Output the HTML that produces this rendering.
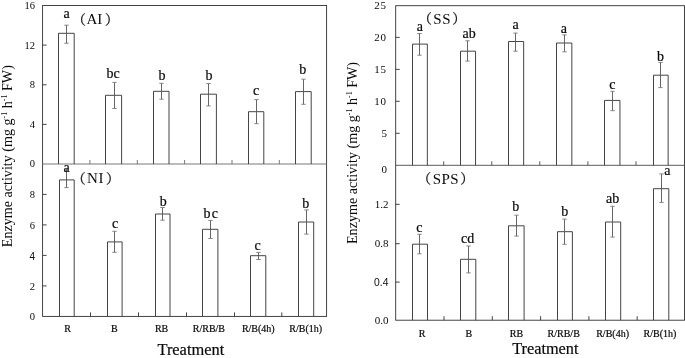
<!DOCTYPE html>
<html><head><meta charset="utf-8"><title>Enzyme activity</title>
<style>html,body{margin:0;padding:0;background:#fff}svg{display:block;will-change:transform}</style></head>
<body>
<svg width="685" height="358" viewBox="0 0 685 358">
<rect width="685" height="358" fill="#fff"/>
<rect x="42.6" y="5.5" width="284.00" height="310.90" fill="none" stroke="#303030" stroke-width="0.9"/>
<line x1="42.60" y1="164.00" x2="326.60" y2="164.00" stroke="#6a6a6a" stroke-width="0.9"/>
<line x1="89.90" y1="164.00" x2="89.90" y2="160.00" stroke="#6a6a6a" stroke-width="0.9"/>
<line x1="137.30" y1="164.00" x2="137.30" y2="160.00" stroke="#6a6a6a" stroke-width="0.9"/>
<line x1="184.60" y1="164.00" x2="184.60" y2="160.00" stroke="#6a6a6a" stroke-width="0.9"/>
<line x1="232.00" y1="164.00" x2="232.00" y2="160.00" stroke="#6a6a6a" stroke-width="0.9"/>
<line x1="279.30" y1="164.00" x2="279.30" y2="160.00" stroke="#6a6a6a" stroke-width="0.9"/>
<line x1="90.50" y1="316.40" x2="90.50" y2="312.40" stroke="#303030" stroke-width="0.9"/>
<line x1="138.50" y1="316.40" x2="138.50" y2="312.40" stroke="#303030" stroke-width="0.9"/>
<line x1="186.50" y1="316.40" x2="186.50" y2="312.40" stroke="#303030" stroke-width="0.9"/>
<line x1="234.50" y1="316.40" x2="234.50" y2="312.40" stroke="#303030" stroke-width="0.9"/>
<line x1="281.80" y1="316.40" x2="281.80" y2="312.40" stroke="#303030" stroke-width="0.9"/>
<rect x="395.7" y="5.7" width="288.80" height="314.50" fill="none" stroke="#303030" stroke-width="0.9"/>
<line x1="395.70" y1="165.30" x2="684.50" y2="165.30" stroke="#484848" stroke-width="0.9"/>
<line x1="443.70" y1="165.30" x2="443.70" y2="161.30" stroke="#484848" stroke-width="0.9"/>
<line x1="491.80" y1="165.30" x2="491.80" y2="161.30" stroke="#484848" stroke-width="0.9"/>
<line x1="539.80" y1="165.30" x2="539.80" y2="161.30" stroke="#484848" stroke-width="0.9"/>
<line x1="587.90" y1="165.30" x2="587.90" y2="161.30" stroke="#484848" stroke-width="0.9"/>
<line x1="636.00" y1="165.30" x2="636.00" y2="161.30" stroke="#484848" stroke-width="0.9"/>
<line x1="444.00" y1="320.20" x2="444.00" y2="316.20" stroke="#303030" stroke-width="0.9"/>
<line x1="492.30" y1="320.20" x2="492.30" y2="316.20" stroke="#303030" stroke-width="0.9"/>
<line x1="540.60" y1="320.20" x2="540.60" y2="316.20" stroke="#303030" stroke-width="0.9"/>
<line x1="588.90" y1="320.20" x2="588.90" y2="316.20" stroke="#303030" stroke-width="0.9"/>
<line x1="637.20" y1="320.20" x2="637.20" y2="316.20" stroke="#303030" stroke-width="0.9"/>
<line x1="42.60" y1="45.10" x2="46.60" y2="45.10" stroke="#303030" stroke-width="0.9"/>
<line x1="42.60" y1="84.80" x2="46.60" y2="84.80" stroke="#303030" stroke-width="0.9"/>
<line x1="42.60" y1="124.40" x2="46.60" y2="124.40" stroke="#303030" stroke-width="0.9"/>
<polyline points="58.50,164.00 58.50,33.30 74.20,33.30 74.20,164.00" fill="none" stroke="#303030" stroke-width="0.9"/>
<line x1="66.50" y1="25.20" x2="66.50" y2="43.20" stroke="#555555" stroke-width="0.9"/>
<line x1="64.30" y1="25.20" x2="68.70" y2="25.20" stroke="#7a7a7a" stroke-width="0.9"/>
<line x1="64.30" y1="43.20" x2="68.70" y2="43.20" stroke="#7a7a7a" stroke-width="0.9"/>
<polyline points="105.50,164.00 105.50,95.30 121.60,95.30 121.60,164.00" fill="none" stroke="#303030" stroke-width="0.9"/>
<line x1="114.50" y1="82.40" x2="114.50" y2="108.50" stroke="#555555" stroke-width="0.9"/>
<line x1="112.30" y1="82.40" x2="116.70" y2="82.40" stroke="#7a7a7a" stroke-width="0.9"/>
<line x1="112.30" y1="108.50" x2="116.70" y2="108.50" stroke="#7a7a7a" stroke-width="0.9"/>
<polyline points="153.50,164.00 153.50,91.30 169.00,91.30 169.00,164.00" fill="none" stroke="#303030" stroke-width="0.9"/>
<line x1="161.50" y1="83.30" x2="161.50" y2="99.20" stroke="#555555" stroke-width="0.9"/>
<line x1="159.30" y1="83.30" x2="163.70" y2="83.30" stroke="#7a7a7a" stroke-width="0.9"/>
<line x1="159.30" y1="99.20" x2="163.70" y2="99.20" stroke="#7a7a7a" stroke-width="0.9"/>
<polyline points="200.50,164.00 200.50,94.20 216.40,94.20 216.40,164.00" fill="none" stroke="#303030" stroke-width="0.9"/>
<line x1="208.50" y1="83.50" x2="208.50" y2="105.90" stroke="#555555" stroke-width="0.9"/>
<line x1="206.30" y1="83.50" x2="210.70" y2="83.50" stroke="#7a7a7a" stroke-width="0.9"/>
<line x1="206.30" y1="105.90" x2="210.70" y2="105.90" stroke="#7a7a7a" stroke-width="0.9"/>
<polyline points="248.50,164.00 248.50,111.70 263.80,111.70 263.80,164.00" fill="none" stroke="#303030" stroke-width="0.9"/>
<line x1="256.50" y1="99.60" x2="256.50" y2="123.70" stroke="#555555" stroke-width="0.9"/>
<line x1="254.30" y1="99.60" x2="258.70" y2="99.60" stroke="#7a7a7a" stroke-width="0.9"/>
<line x1="254.30" y1="123.70" x2="258.70" y2="123.70" stroke="#7a7a7a" stroke-width="0.9"/>
<polyline points="295.50,164.00 295.50,91.60 311.20,91.60 311.20,164.00" fill="none" stroke="#303030" stroke-width="0.9"/>
<line x1="303.50" y1="79.20" x2="303.50" y2="104.30" stroke="#555555" stroke-width="0.9"/>
<line x1="301.30" y1="79.20" x2="305.70" y2="79.20" stroke="#7a7a7a" stroke-width="0.9"/>
<line x1="301.30" y1="104.30" x2="305.70" y2="104.30" stroke="#7a7a7a" stroke-width="0.9"/>
<text x="66.70" y="17.60" font-size="14" text-anchor="middle" font-family='"Liberation Serif", serif' fill="#0a0a0a" stroke="#0a0a0a" stroke-width="0.2" >a</text>
<text x="113.00" y="78.00" font-size="14" text-anchor="middle" font-family='"Liberation Serif", serif' fill="#0a0a0a" stroke="#0a0a0a" stroke-width="0.2" >bc</text>
<text x="161.90" y="79.50" font-size="14" text-anchor="middle" font-family='"Liberation Serif", serif' fill="#0a0a0a" stroke="#0a0a0a" stroke-width="0.2" >b</text>
<text x="209.10" y="79.90" font-size="14" text-anchor="middle" font-family='"Liberation Serif", serif' fill="#0a0a0a" stroke="#0a0a0a" stroke-width="0.2" >b</text>
<text x="256.00" y="95.00" font-size="14" text-anchor="middle" font-family='"Liberation Serif", serif' fill="#0a0a0a" stroke="#0a0a0a" stroke-width="0.2" >c</text>
<text x="302.80" y="74.40" font-size="14" text-anchor="middle" font-family='"Liberation Serif", serif' fill="#0a0a0a" stroke="#0a0a0a" stroke-width="0.2" >b</text>
<line x1="42.60" y1="194.40" x2="46.60" y2="194.40" stroke="#303030" stroke-width="0.9"/>
<line x1="42.60" y1="224.90" x2="46.60" y2="224.90" stroke="#303030" stroke-width="0.9"/>
<line x1="42.60" y1="255.40" x2="46.60" y2="255.40" stroke="#303030" stroke-width="0.9"/>
<line x1="42.60" y1="285.90" x2="46.60" y2="285.90" stroke="#303030" stroke-width="0.9"/>
<polyline points="59.50,316.40 59.50,179.90 74.20,179.90 74.20,316.40" fill="none" stroke="#303030" stroke-width="0.9"/>
<line x1="66.50" y1="168.80" x2="66.50" y2="187.60" stroke="#555555" stroke-width="0.9"/>
<line x1="64.30" y1="168.80" x2="68.70" y2="168.80" stroke="#7a7a7a" stroke-width="0.9"/>
<line x1="64.30" y1="187.60" x2="68.70" y2="187.60" stroke="#7a7a7a" stroke-width="0.9"/>
<polyline points="107.50,316.40 107.50,241.90 122.10,241.90 122.10,316.40" fill="none" stroke="#303030" stroke-width="0.9"/>
<line x1="114.50" y1="231.30" x2="114.50" y2="252.30" stroke="#555555" stroke-width="0.9"/>
<line x1="112.30" y1="231.30" x2="116.70" y2="231.30" stroke="#7a7a7a" stroke-width="0.9"/>
<line x1="112.30" y1="252.30" x2="116.70" y2="252.30" stroke="#7a7a7a" stroke-width="0.9"/>
<polyline points="155.50,316.40 155.50,214.00 170.00,214.00 170.00,316.40" fill="none" stroke="#303030" stroke-width="0.9"/>
<line x1="162.50" y1="207.50" x2="162.50" y2="220.20" stroke="#555555" stroke-width="0.9"/>
<line x1="160.30" y1="207.50" x2="164.70" y2="207.50" stroke="#7a7a7a" stroke-width="0.9"/>
<line x1="160.30" y1="220.20" x2="164.70" y2="220.20" stroke="#7a7a7a" stroke-width="0.9"/>
<polyline points="202.50,316.40 202.50,229.30 217.90,229.30 217.90,316.40" fill="none" stroke="#303030" stroke-width="0.9"/>
<line x1="210.50" y1="220.40" x2="210.50" y2="238.50" stroke="#555555" stroke-width="0.9"/>
<line x1="208.30" y1="220.40" x2="212.70" y2="220.40" stroke="#7a7a7a" stroke-width="0.9"/>
<line x1="208.30" y1="238.50" x2="212.70" y2="238.50" stroke="#7a7a7a" stroke-width="0.9"/>
<polyline points="250.50,316.40 250.50,255.70 265.80,255.70 265.80,316.40" fill="none" stroke="#303030" stroke-width="0.9"/>
<line x1="258.50" y1="252.40" x2="258.50" y2="259.50" stroke="#555555" stroke-width="0.9"/>
<line x1="256.30" y1="252.40" x2="260.70" y2="252.40" stroke="#7a7a7a" stroke-width="0.9"/>
<line x1="256.30" y1="259.50" x2="260.70" y2="259.50" stroke="#7a7a7a" stroke-width="0.9"/>
<polyline points="298.50,316.40 298.50,222.00 313.70,222.00 313.70,316.40" fill="none" stroke="#303030" stroke-width="0.9"/>
<line x1="306.50" y1="209.90" x2="306.50" y2="234.10" stroke="#555555" stroke-width="0.9"/>
<line x1="304.30" y1="209.90" x2="308.70" y2="209.90" stroke="#7a7a7a" stroke-width="0.9"/>
<line x1="304.30" y1="234.10" x2="308.70" y2="234.10" stroke="#7a7a7a" stroke-width="0.9"/>
<text x="66.50" y="172.10" font-size="14" text-anchor="middle" font-family='"Liberation Serif", serif' fill="#0a0a0a" stroke="#0a0a0a" stroke-width="0.2" >a</text>
<text x="115.00" y="228.20" font-size="14" text-anchor="middle" font-family='"Liberation Serif", serif' fill="#0a0a0a" stroke="#0a0a0a" stroke-width="0.2" >c</text>
<text x="163.20" y="205.90" font-size="14" text-anchor="middle" font-family='"Liberation Serif", serif' fill="#0a0a0a" stroke="#0a0a0a" stroke-width="0.2" >b</text>
<text x="211.40" y="218.20" font-size="14" text-anchor="middle" font-family='"Liberation Serif", serif' fill="#0a0a0a" stroke="#0a0a0a" stroke-width="0.2" letter-spacing="1.3">bc</text>
<text x="257.60" y="249.60" font-size="14" text-anchor="middle" font-family='"Liberation Serif", serif' fill="#0a0a0a" stroke="#0a0a0a" stroke-width="0.2" >c</text>
<text x="305.80" y="208.10" font-size="14" text-anchor="middle" font-family='"Liberation Serif", serif' fill="#0a0a0a" stroke="#0a0a0a" stroke-width="0.2" >b</text>
<line x1="395.70" y1="37.40" x2="399.70" y2="37.40" stroke="#303030" stroke-width="0.9"/>
<line x1="395.70" y1="69.40" x2="399.70" y2="69.40" stroke="#303030" stroke-width="0.9"/>
<line x1="395.70" y1="101.30" x2="399.70" y2="101.30" stroke="#303030" stroke-width="0.9"/>
<line x1="395.70" y1="133.30" x2="399.70" y2="133.30" stroke="#303030" stroke-width="0.9"/>
<polyline points="412.50,165.30 412.50,44.10 427.35,44.10 427.35,165.30" fill="none" stroke="#303030" stroke-width="0.9"/>
<line x1="419.50" y1="33.50" x2="419.50" y2="55.20" stroke="#555555" stroke-width="0.9"/>
<line x1="417.30" y1="33.50" x2="421.70" y2="33.50" stroke="#7a7a7a" stroke-width="0.9"/>
<line x1="417.30" y1="55.20" x2="421.70" y2="55.20" stroke="#7a7a7a" stroke-width="0.9"/>
<polyline points="460.50,165.30 460.50,51.20 475.55,51.20 475.55,165.30" fill="none" stroke="#303030" stroke-width="0.9"/>
<line x1="467.50" y1="40.80" x2="467.50" y2="61.10" stroke="#555555" stroke-width="0.9"/>
<line x1="465.30" y1="40.80" x2="469.70" y2="40.80" stroke="#7a7a7a" stroke-width="0.9"/>
<line x1="465.30" y1="61.10" x2="469.70" y2="61.10" stroke="#7a7a7a" stroke-width="0.9"/>
<polyline points="508.50,165.30 508.50,41.50 523.65,41.50 523.65,165.30" fill="none" stroke="#303030" stroke-width="0.9"/>
<line x1="515.50" y1="33.10" x2="515.50" y2="51.20" stroke="#555555" stroke-width="0.9"/>
<line x1="513.30" y1="33.10" x2="517.70" y2="33.10" stroke="#7a7a7a" stroke-width="0.9"/>
<line x1="513.30" y1="51.20" x2="517.70" y2="51.20" stroke="#7a7a7a" stroke-width="0.9"/>
<polyline points="556.50,165.30 556.50,43.00 571.85,43.00 571.85,165.30" fill="none" stroke="#303030" stroke-width="0.9"/>
<line x1="564.50" y1="34.90" x2="564.50" y2="51.80" stroke="#555555" stroke-width="0.9"/>
<line x1="562.30" y1="34.90" x2="566.70" y2="34.90" stroke="#7a7a7a" stroke-width="0.9"/>
<line x1="562.30" y1="51.80" x2="566.70" y2="51.80" stroke="#7a7a7a" stroke-width="0.9"/>
<polyline points="604.50,165.30 604.50,100.40 619.95,100.40 619.95,165.30" fill="none" stroke="#303030" stroke-width="0.9"/>
<line x1="612.50" y1="91.30" x2="612.50" y2="110.70" stroke="#555555" stroke-width="0.9"/>
<line x1="610.30" y1="91.30" x2="614.70" y2="91.30" stroke="#7a7a7a" stroke-width="0.9"/>
<line x1="610.30" y1="110.70" x2="614.70" y2="110.70" stroke="#7a7a7a" stroke-width="0.9"/>
<polyline points="653.50,165.30 653.50,75.20 668.15,75.20 668.15,165.30" fill="none" stroke="#303030" stroke-width="0.9"/>
<line x1="660.50" y1="62.40" x2="660.50" y2="87.60" stroke="#555555" stroke-width="0.9"/>
<line x1="658.30" y1="62.40" x2="662.70" y2="62.40" stroke="#7a7a7a" stroke-width="0.9"/>
<line x1="658.30" y1="87.60" x2="662.70" y2="87.60" stroke="#7a7a7a" stroke-width="0.9"/>
<text x="419.80" y="31.30" font-size="14" text-anchor="middle" font-family='"Liberation Serif", serif' fill="#0a0a0a" stroke="#0a0a0a" stroke-width="0.2" >a</text>
<text x="469.20" y="37.90" font-size="14" text-anchor="middle" font-family='"Liberation Serif", serif' fill="#0a0a0a" stroke="#0a0a0a" stroke-width="0.2" >ab</text>
<text x="515.60" y="29.10" font-size="14" text-anchor="middle" font-family='"Liberation Serif", serif' fill="#0a0a0a" stroke="#0a0a0a" stroke-width="0.2" >a</text>
<text x="563.80" y="32.60" font-size="14" text-anchor="middle" font-family='"Liberation Serif", serif' fill="#0a0a0a" stroke="#0a0a0a" stroke-width="0.2" >a</text>
<text x="612.30" y="88.70" font-size="14" text-anchor="middle" font-family='"Liberation Serif", serif' fill="#0a0a0a" stroke="#0a0a0a" stroke-width="0.2" >c</text>
<text x="660.40" y="60.70" font-size="14" text-anchor="middle" font-family='"Liberation Serif", serif' fill="#0a0a0a" stroke="#0a0a0a" stroke-width="0.2" >b</text>
<line x1="395.70" y1="204.30" x2="399.70" y2="204.30" stroke="#303030" stroke-width="0.9"/>
<line x1="395.70" y1="243.70" x2="399.70" y2="243.70" stroke="#303030" stroke-width="0.9"/>
<line x1="395.70" y1="282.10" x2="399.70" y2="282.10" stroke="#303030" stroke-width="0.9"/>
<polyline points="412.50,320.20 412.50,244.20 427.50,244.20 427.50,320.20" fill="none" stroke="#303030" stroke-width="0.9"/>
<line x1="419.50" y1="234.30" x2="419.50" y2="253.80" stroke="#555555" stroke-width="0.9"/>
<line x1="417.30" y1="234.30" x2="421.70" y2="234.30" stroke="#7a7a7a" stroke-width="0.9"/>
<line x1="417.30" y1="253.80" x2="421.70" y2="253.80" stroke="#7a7a7a" stroke-width="0.9"/>
<polyline points="460.50,320.20 460.50,259.30 475.80,259.30 475.80,320.20" fill="none" stroke="#303030" stroke-width="0.9"/>
<line x1="468.50" y1="246.00" x2="468.50" y2="272.90" stroke="#555555" stroke-width="0.9"/>
<line x1="466.30" y1="246.00" x2="470.70" y2="246.00" stroke="#7a7a7a" stroke-width="0.9"/>
<line x1="466.30" y1="272.90" x2="470.70" y2="272.90" stroke="#7a7a7a" stroke-width="0.9"/>
<polyline points="508.50,320.20 508.50,225.80 524.10,225.80 524.10,320.20" fill="none" stroke="#303030" stroke-width="0.9"/>
<line x1="516.50" y1="215.20" x2="516.50" y2="236.10" stroke="#555555" stroke-width="0.9"/>
<line x1="514.30" y1="215.20" x2="518.70" y2="215.20" stroke="#7a7a7a" stroke-width="0.9"/>
<line x1="514.30" y1="236.10" x2="518.70" y2="236.10" stroke="#7a7a7a" stroke-width="0.9"/>
<polyline points="557.50,320.20 557.50,231.70 572.40,231.70 572.40,320.20" fill="none" stroke="#303030" stroke-width="0.9"/>
<line x1="564.50" y1="219.10" x2="564.50" y2="244.30" stroke="#555555" stroke-width="0.9"/>
<line x1="562.30" y1="219.10" x2="566.70" y2="219.10" stroke="#7a7a7a" stroke-width="0.9"/>
<line x1="562.30" y1="244.30" x2="566.70" y2="244.30" stroke="#7a7a7a" stroke-width="0.9"/>
<polyline points="605.50,320.20 605.50,222.00 620.70,222.00 620.70,320.20" fill="none" stroke="#303030" stroke-width="0.9"/>
<line x1="612.50" y1="206.30" x2="612.50" y2="237.10" stroke="#555555" stroke-width="0.9"/>
<line x1="610.30" y1="206.30" x2="614.70" y2="206.30" stroke="#7a7a7a" stroke-width="0.9"/>
<line x1="610.30" y1="237.10" x2="614.70" y2="237.10" stroke="#7a7a7a" stroke-width="0.9"/>
<polyline points="653.50,320.20 653.50,188.70 668.80,188.70 668.80,320.20" fill="none" stroke="#303030" stroke-width="0.9"/>
<line x1="661.50" y1="173.90" x2="661.50" y2="202.40" stroke="#555555" stroke-width="0.9"/>
<line x1="659.30" y1="173.90" x2="663.70" y2="173.90" stroke="#7a7a7a" stroke-width="0.9"/>
<line x1="659.30" y1="202.40" x2="663.70" y2="202.40" stroke="#7a7a7a" stroke-width="0.9"/>
<text x="419.30" y="231.60" font-size="14" text-anchor="middle" font-family='"Liberation Serif", serif' fill="#0a0a0a" stroke="#0a0a0a" stroke-width="0.2" >c</text>
<text x="467.70" y="242.50" font-size="14" text-anchor="middle" font-family='"Liberation Serif", serif' fill="#0a0a0a" stroke="#0a0a0a" stroke-width="0.2" >cd</text>
<text x="515.70" y="211.40" font-size="14" text-anchor="middle" font-family='"Liberation Serif", serif' fill="#0a0a0a" stroke="#0a0a0a" stroke-width="0.2" >b</text>
<text x="564.80" y="215.60" font-size="14" text-anchor="middle" font-family='"Liberation Serif", serif' fill="#0a0a0a" stroke="#0a0a0a" stroke-width="0.2" >b</text>
<text x="612.70" y="202.60" font-size="14" text-anchor="middle" font-family='"Liberation Serif", serif' fill="#0a0a0a" stroke="#0a0a0a" stroke-width="0.2" >ab</text>
<text x="667.40" y="175.40" font-size="14" text-anchor="middle" font-family='"Liberation Serif", serif' fill="#0a0a0a" stroke="#0a0a0a" stroke-width="0.2" >a</text>
<text x="72.27" y="23.60" font-size="13.6" font-family='"Noto Serif CJK SC", "Noto Sans CJK SC", serif' fill="#0a0a0a" stroke="#0a0a0a" stroke-width="0.25">（</text>
<text x="86.40" y="23.70" font-size="15" letter-spacing="0" font-family='"Liberation Serif", serif' fill="#0a0a0a">AI</text>
<text x="104.94" y="23.60" font-size="13.6" font-family='"Noto Serif CJK SC", "Noto Sans CJK SC", serif' fill="#0a0a0a" stroke="#0a0a0a" stroke-width="0.25">）</text>
<text x="72.07" y="183.10" font-size="13.6" font-family='"Noto Serif CJK SC", "Noto Sans CJK SC", serif' fill="#0a0a0a" stroke="#0a0a0a" stroke-width="0.25">（</text>
<text x="87.10" y="183.20" font-size="15" letter-spacing="0.6" font-family='"Liberation Serif", serif' fill="#0a0a0a">NI</text>
<text x="105.94" y="183.10" font-size="13.6" font-family='"Noto Serif CJK SC", "Noto Sans CJK SC", serif' fill="#0a0a0a" stroke="#0a0a0a" stroke-width="0.25">）</text>
<text x="418.37" y="22.90" font-size="13.6" font-family='"Noto Serif CJK SC", "Noto Sans CJK SC", serif' fill="#0a0a0a" stroke="#0a0a0a" stroke-width="0.25">（</text>
<text x="433.30" y="23.80" font-size="15" letter-spacing="0.7" font-family='"Liberation Serif", serif' fill="#0a0a0a">SS</text>
<text x="452.34" y="22.90" font-size="13.6" font-family='"Noto Serif CJK SC", "Noto Sans CJK SC", serif' fill="#0a0a0a" stroke="#0a0a0a" stroke-width="0.25">）</text>
<text x="417.57" y="182.90" font-size="13.6" font-family='"Noto Serif CJK SC", "Noto Sans CJK SC", serif' fill="#0a0a0a" stroke="#0a0a0a" stroke-width="0.25">（</text>
<text x="432.80" y="183.50" font-size="15" letter-spacing="0.4" font-family='"Liberation Serif", serif' fill="#0a0a0a">SPS</text>
<text x="460.14" y="182.90" font-size="13.6" font-family='"Noto Serif CJK SC", "Noto Sans CJK SC", serif' fill="#0a0a0a" stroke="#0a0a0a" stroke-width="0.25">）</text>
<text x="35.00" y="9.10" font-size="10.5" text-anchor="end" font-family='"Liberation Serif", serif' fill="#0a0a0a" >16</text>
<text x="35.00" y="48.70" font-size="10.5" text-anchor="end" font-family='"Liberation Serif", serif' fill="#0a0a0a" >12</text>
<text x="35.00" y="88.40" font-size="10.5" text-anchor="end" font-family='"Liberation Serif", serif' fill="#0a0a0a" >8</text>
<text x="35.00" y="128.00" font-size="10.5" text-anchor="end" font-family='"Liberation Serif", serif' fill="#0a0a0a" >4</text>
<text x="35.00" y="167.00" font-size="10.5" text-anchor="end" font-family='"Liberation Serif", serif' fill="#0a0a0a" >0</text>
<text x="35.00" y="198.00" font-size="10.5" text-anchor="end" font-family='"Liberation Serif", serif' fill="#0a0a0a" >8</text>
<text x="35.00" y="228.50" font-size="10.5" text-anchor="end" font-family='"Liberation Serif", serif' fill="#0a0a0a" >6</text>
<text x="35.00" y="259.60" font-size="10" text-anchor="end" font-family='"Liberation Sans", sans-serif' fill="#0a0a0a" >4</text>
<text x="35.00" y="289.50" font-size="10.5" text-anchor="end" font-family='"Liberation Serif", serif' fill="#0a0a0a" >2</text>
<text x="35.00" y="320.00" font-size="10.5" text-anchor="end" font-family='"Liberation Serif", serif' fill="#0a0a0a" >0</text>
<text x="386.60" y="9.10" font-size="11" text-anchor="end" font-family='"Liberation Serif", serif' fill="#0a0a0a" letter-spacing="0.7">25</text>
<text x="386.60" y="41.10" font-size="11" text-anchor="end" font-family='"Liberation Serif", serif' fill="#0a0a0a" letter-spacing="0.7">20</text>
<text x="386.60" y="73.10" font-size="11" text-anchor="end" font-family='"Liberation Serif", serif' fill="#0a0a0a" letter-spacing="0.7">15</text>
<text x="386.60" y="105.00" font-size="11" text-anchor="end" font-family='"Liberation Serif", serif' fill="#0a0a0a" letter-spacing="0.7">10</text>
<text x="387.60" y="137.00" font-size="11" text-anchor="end" font-family='"Liberation Serif", serif' fill="#0a0a0a" letter-spacing="0.7">5</text>
<text x="387.60" y="172.90" font-size="11" text-anchor="end" font-family='"Liberation Serif", serif' fill="#0a0a0a" letter-spacing="0.7">0</text>
<text x="388.40" y="208.00" font-size="11" text-anchor="end" font-family='"Liberation Serif", serif' fill="#0a0a0a" >1.2</text>
<text x="388.40" y="247.40" font-size="11" text-anchor="end" font-family='"Liberation Serif", serif' fill="#0a0a0a" >0.8</text>
<text x="388.40" y="285.80" font-size="10.3" text-anchor="end" font-family='"Liberation Sans", sans-serif' fill="#0a0a0a" >0.4</text>
<text x="388.40" y="323.80" font-size="11" text-anchor="end" font-family='"Liberation Serif", serif' fill="#0a0a0a" >0.0</text>
<text x="67.70" y="332.10" font-size="10" text-anchor="middle" font-family='"Liberation Serif", serif' fill="#0a0a0a" stroke="#0a0a0a" stroke-width="0.2" >R</text>
<text x="114.40" y="332.10" font-size="10" text-anchor="middle" font-family='"Liberation Serif", serif' fill="#0a0a0a" stroke="#0a0a0a" stroke-width="0.2" >B</text>
<text x="161.60" y="332.10" font-size="10" text-anchor="middle" font-family='"Liberation Serif", serif' fill="#0a0a0a" stroke="#0a0a0a" stroke-width="0.2" >RB</text>
<text x="208.90" y="332.10" font-size="10" text-anchor="middle" font-family='"Liberation Serif", serif' fill="#0a0a0a" stroke="#0a0a0a" stroke-width="0.2" >R/RB/B</text>
<text x="258.30" y="332.10" font-size="10" text-anchor="middle" font-family='"Liberation Serif", serif' fill="#0a0a0a" stroke="#0a0a0a" stroke-width="0.2" >R/B(4h)</text>
<text x="305.70" y="332.10" font-size="10" text-anchor="middle" font-family='"Liberation Serif", serif' fill="#0a0a0a" stroke="#0a0a0a" stroke-width="0.2" >R/B(1h)</text>
<text x="422.00" y="336.80" font-size="10" text-anchor="middle" font-family='"Liberation Serif", serif' fill="#0a0a0a" stroke="#0a0a0a" stroke-width="0.2" >R</text>
<text x="468.90" y="336.80" font-size="10" text-anchor="middle" font-family='"Liberation Serif", serif' fill="#0a0a0a" stroke="#0a0a0a" stroke-width="0.2" >B</text>
<text x="516.40" y="336.80" font-size="10" text-anchor="middle" font-family='"Liberation Serif", serif' fill="#0a0a0a" stroke="#0a0a0a" stroke-width="0.2" >RB</text>
<text x="563.70" y="336.80" font-size="10" text-anchor="middle" font-family='"Liberation Serif", serif' fill="#0a0a0a" stroke="#0a0a0a" stroke-width="0.2" >R/RB/B</text>
<text x="612.60" y="336.80" font-size="10" text-anchor="middle" font-family='"Liberation Serif", serif' fill="#0a0a0a" stroke="#0a0a0a" stroke-width="0.2" >R/B(4h)</text>
<text x="660.00" y="336.80" font-size="10" text-anchor="middle" font-family='"Liberation Serif", serif' fill="#0a0a0a" stroke="#0a0a0a" stroke-width="0.2" >R/B(1h)</text>
<text x="190.85" y="354.50" font-size="16.4" text-anchor="middle" font-family='"Liberation Serif", serif' fill="#0a0a0a" stroke="#0a0a0a" stroke-width="0.2" >Treatment</text>
<text x="545.35" y="353.70" font-size="16.3" text-anchor="middle" font-family='"Liberation Serif", serif' fill="#0a0a0a" stroke="#0a0a0a" stroke-width="0.2" >Treatment</text>
<text transform="translate(12.3,247.2) rotate(-90)" font-size="14.1" font-family='"Liberation Serif", serif' fill="#0a0a0a">Enzyme activity (mg g<tspan font-size="8" dy="-5">-1</tspan><tspan dy="5"> h</tspan><tspan font-size="8" dy="-5">-1</tspan><tspan dy="5"> FW)</tspan></text>
<text transform="translate(356.5,244.0) rotate(-90)" font-size="14.1" font-family='"Liberation Serif", serif' fill="#0a0a0a">Enzyme activity (mg g<tspan font-size="8" dy="-5">-1</tspan><tspan dy="5"> h</tspan><tspan font-size="8" dy="-5">-1</tspan><tspan dy="5"> FW)</tspan></text>
</svg>
</body></html>
